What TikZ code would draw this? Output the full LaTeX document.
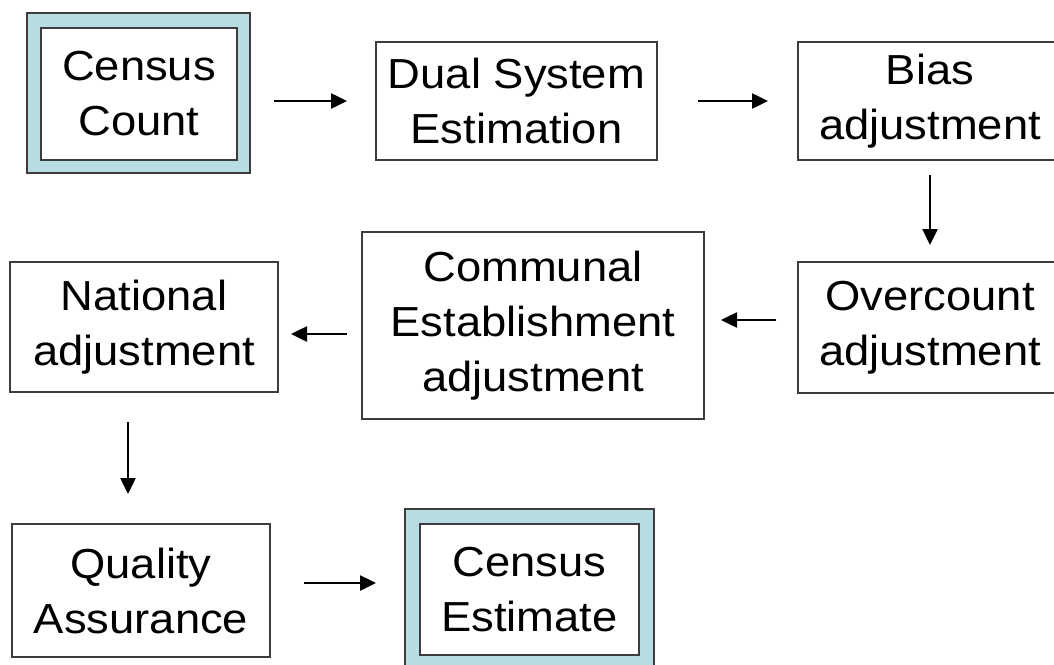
\documentclass[tikz,border=0pt]{standalone}
\usepackage{fontspec}
\setmainfont[FakeStretch=1.08]{Liberation Sans}
\usetikzlibrary{arrows.meta}
\definecolor{framefill}{RGB}{183,221,226}
\definecolor{edge}{RGB}{60,60,60}
\begin{document}
\begin{tikzpicture}[x=1pt,y=-1pt,
  stepbox/.style={draw=edge, line width=2pt, fill=white, inner sep=0pt, align=center,
    font=\fontsize{42}{55}\selectfont},
  framebox/.style={draw=edge, line width=2pt, fill=framefill, inner sep=0pt},
  arr/.style={line width=2.5pt, -{Triangle[length=16pt,width=15pt]}}]
\clip (0,0) rectangle (1054,664);
\fill[white] (0,0) rectangle (1054,664);
% double-framed nodes
\node[framebox, minimum width=223pt, minimum height=160pt] (cco) at (138.5,93) {};
\node[stepbox, minimum width=196pt, minimum height=132pt] (cc) at (139,94) {Census\\Count};
\node[framebox, minimum width=249pt, minimum height=160pt] (ceo) at (529.5,589) {};
\node[stepbox, minimum width=219pt, minimum height=131pt] (ce) at (529.5,589.5) {Census\\Estimate};
% other nodes
\node[stepbox, minimum width=281pt, minimum height=118pt] (dse) at (516.5,101) {Dual System\\Estimation};
\node[stepbox, minimum width=264pt, minimum height=118pt] (bias) at (930,101) {Bias\\adjustment};
\node[stepbox, minimum width=264pt, minimum height=131pt] (over) at (930,327.5) {Overcount\\adjustment};
\node[stepbox, minimum width=342pt, minimum height=187pt] (comm) at (533,325.5) {Communal\\Establishment\\adjustment};
\node[stepbox, minimum width=268pt, minimum height=130pt] (nat) at (144,327) {National\\adjustment};
\node[stepbox, minimum width=258pt, minimum height=133pt] (qa) at (141,590.5) {Quality\\Assurance};
% connectors
\draw[arr, shorten <=23pt, shorten >=28pt] (cco.east |- dse.west) -- (dse.west);
\draw[arr, shorten <=40pt, shorten >=29pt] (dse.east) -- (bias.west);
\draw[arr, shorten <=14pt, shorten >=16pt] (bias.south) -- (over.north);
\draw[arr, shorten <=21pt, shorten >=16pt] ([yshift=7.5pt]over.west) -- ([yshift=7.5pt]over.west -| comm.east);
\draw[arr, shorten <=14pt, shorten >=12pt] ([yshift=-8.5pt]comm.west) -- ([yshift=-8.5pt]comm.west -| nat.east);
\draw[arr, shorten <=29pt, shorten >=29pt] ([xshift=-16pt]nat.south) -- ([xshift=-16pt]nat.south |- qa.north);
\draw[arr, shorten <=33pt, shorten >=28pt] ([yshift=7.5pt]qa.east) -- ([yshift=7.5pt]qa.east -| ceo.west);
\end{tikzpicture}
\end{document}
